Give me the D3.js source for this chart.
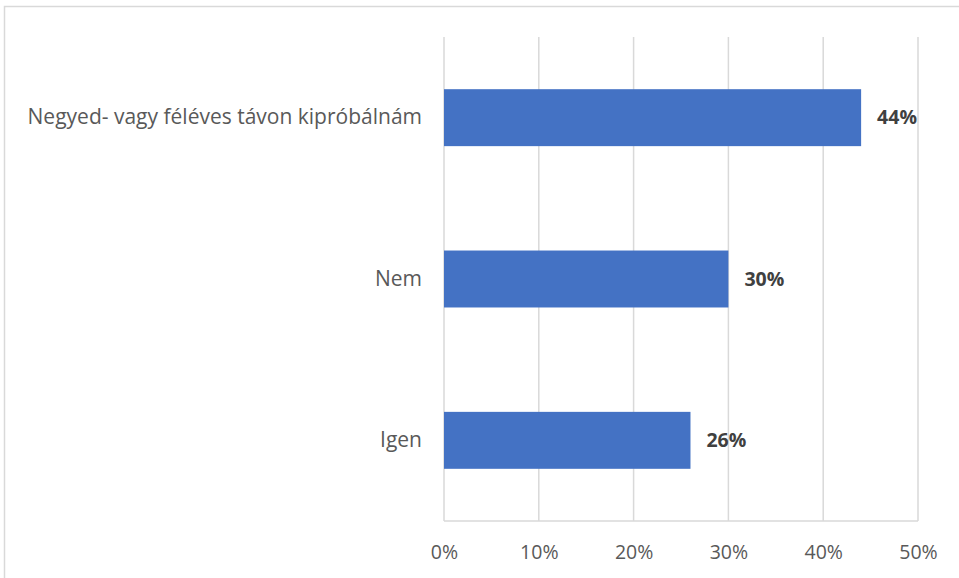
<!DOCTYPE html>
<html>
<head>
<meta charset="utf-8">
<script src="https://cdn.jsdelivr.net/npm/d3@7"></script>
<style>
  html, body { margin: 0; padding: 0; background: #fff; }
  svg { display: block; }
</style>
</head>
<body>
<svg id="chart" width="959" height="578"></svg>
<script>
// Survey answers, top to bottom
const categories = ["Negyed- vagy féléves távon kipróbálnám", "Nem", "Igen"];
const shares = [0.44, 0.30, 0.26];
const tickValues = [0, 0.1, 0.2, 0.3, 0.4, 0.5];

const svg = d3.select("#chart");
const W = 959, H = 578;
const margin = { left: 444, right: 41, top: 37, bottom: 57 };
const font = "'Open Sans', Lato, sans-serif";

// outer frame
svg.append("rect")
  .attr("x", 4.5).attr("y", 6.5)
  .attr("width", W + 10).attr("height", H + 10)
  .attr("fill", "none").attr("stroke", "#d9d9d9").attr("stroke-width", 1.5);

const x = d3.scaleLinear().domain([0, 0.5]).range([margin.left, W - margin.right]);
const y = d3.scaleBand().domain(categories).range([margin.top, H - margin.bottom]).paddingInner(0.647).paddingOuter(0.3235);

// vertical gridlines
svg.append("g").selectAll("line").data(tickValues).join("line")
  .attr("x1", d => x(d)).attr("x2", d => x(d))
  .attr("y1", margin.top).attr("y2", H - margin.bottom)
  .attr("stroke", "#d9d9d9").attr("stroke-width", 1.5);

// baseline
svg.append("line")
  .attr("x1", x(0)).attr("x2", x(0.5))
  .attr("y1", H - margin.bottom).attr("y2", H - margin.bottom)
  .attr("stroke", "#d9d9d9").attr("stroke-width", 1.5);

// x-axis tick labels
const xAxis = d3.axisBottom(x).tickValues(tickValues).tickFormat(d3.format(".0%")).tickSize(0).tickPadding(24);
const gx = svg.append("g").attr("transform", `translate(0,${H - margin.bottom})`).call(xAxis);
gx.select(".domain").remove();
gx.selectAll("text").attr("font-family", font).attr("font-size", 19.5).attr("fill", "#595959");

// category labels
const yAxis = d3.axisLeft(y).tickSize(0).tickPadding(22);
const gy = svg.append("g").attr("transform", `translate(${margin.left},0)`).call(yAxis);
gy.select(".domain").remove();
gy.selectAll("text").attr("font-family", font).attr("font-size", 21).attr("fill", "#595959");

// bars
svg.append("g").selectAll("rect").data(categories).join("rect")
  .attr("x", x(0))
  .attr("y", d => y(d))
  .attr("width", (d, i) => x(shares[i]) - x(0))
  .attr("height", y.bandwidth())
  .attr("fill", "#4472c4");

// value labels
svg.append("g").selectAll("text").data(categories).join("text")
  .attr("x", (d, i) => x(shares[i]) + 16)
  .attr("y", d => y(d) + y.bandwidth() / 2)
  .attr("dy", "0.35em")
  .attr("font-family", font).attr("font-size", 19.5).attr("font-weight", "bold")
  .attr("fill", "#404040")
  .text((d, i) => d3.format(".0%")(shares[i]));
</script>
</body>
</html>
